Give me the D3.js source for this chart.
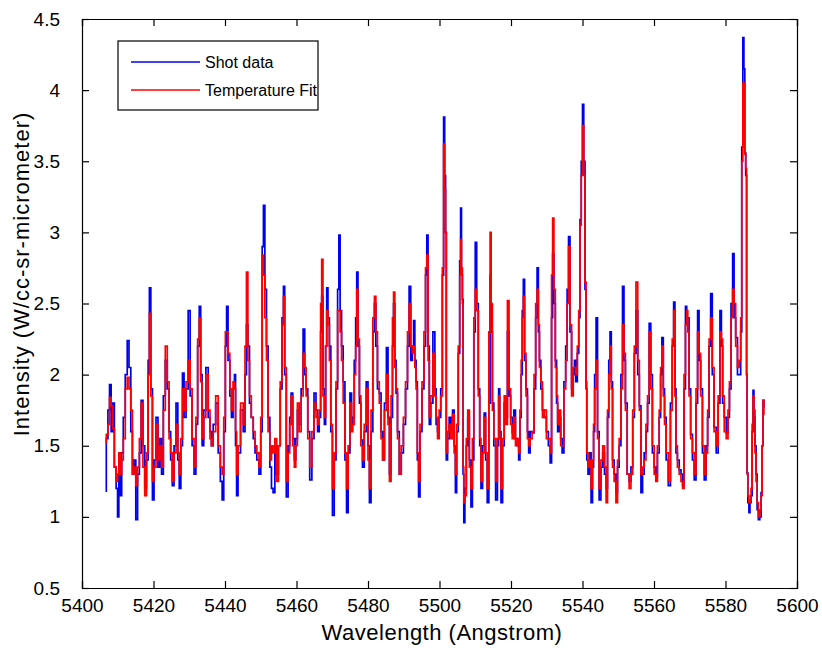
<!DOCTYPE html>
<html>
<head>
<meta charset="utf-8">
<script src="https://cdn.jsdelivr.net/npm/d3@7"></script>
<style>
  html, body { margin: 0; padding: 0; background: #fff; }
  svg { display: block; font-family: "Liberation Sans", Arial, Helvetica, sans-serif; }
</style>
</head>
<body>
<svg id="chart" width="822" height="649"></svg>
<script>
// Wavelength grid (Angstrom) shared by the measured spectrum and the fit
const wavelength = [
  5406.6,5407.0,5407.5,5407.9,5408.4,5408.8,5409.3,5409.8,5410.1,5410.5,5410.9,5411.3,5411.8,5412.4,5412.9,5413.4,5413.9,5414.3,5414.8,5415.3,
  5415.8,5416.3,5416.8,5417.3,5417.8,5418.3,5418.7,5419.0,5419.5,5419.9,5420.4,5421.0,5421.5,5422.0,5422.5,5423.0,5423.6,5424.1,5424.6,5425.0,
  5425.5,5426.0,5426.6,5427.0,5427.4,5427.9,5428.3,5428.8,5429.4,5430.0,5430.5,5431.1,5431.6,5432.1,5432.6,5433.0,5433.4,5433.8,5434.3,5435.0,
  5435.6,5436.0,5436.4,5437.0,5437.8,5438.4,5439.0,5439.4,5439.9,5440.3,5440.6,5441.1,5441.6,5442.0,5442.5,5442.8,5443.1,5443.4,5443.9,5444.8,
  5445.4,5445.8,5446.2,5446.6,5447.1,5447.6,5448.2,5448.6,5449.2,5449.8,5450.2,5450.6,5450.9,5451.4,5451.8,5452.3,
  5452.8,5453.2,5453.7,5454.2,5454.7,5455.2,5455.7,5456.2,5456.5,5456.9,5457.4,5457.9,5458.3,5458.7,5459.2,5459.6,5460.0,5460.5,5461.0,5461.6,
  5462.1,5462.5,5462.9,5463.4,5464.0,5464.6,5465.2,5465.7,5466.1,5466.6,5466.9,5467.2,5467.6,5468.0,5468.3,5468.6,5469.0,5469.4,5469.8,5470.3,
  5470.8,5471.3,5471.7,5472.0,5472.4,5472.8,5473.3,5473.8,5474.2,5474.7,5475.2,5475.6,5475.9,5476.4,5476.7,5477.0,5477.4,5477.8,5478.2,5478.7,
  5479.2,5479.8,5480.2,5480.6,5481.1,5481.6,5482.0,5482.4,5482.9,5483.4,5483.9,5484.3,5484.9,5485.4,5485.8,5486.2,5486.7,5487.0,5487.3,5487.7,
  5488.0,5488.5,5489.0,5489.6,5490.2,5490.8,5491.3,5491.7,5492.2,5492.6,5492.9,5493.3,5493.6,5494.0,5494.3,5494.8,5495.4,5495.9,5496.3,5496.6,
  5497.0,5497.3,5497.8,5498.5,5498.9,5499.2,5499.7,
  5500.1,5500.6,5501.0,5501.3,5501.6,5501.8,5502.0,5502.5,5502.9,5503.4,5503.9,5504.3,5504.6,5505.0,5505.5,5505.8,5506.0,5506.3,5506.5,5506.7,
  5506.9,5507.3,5507.7,5508.1,5508.6,5509.0,5509.4,5509.8,5510.2,5510.6,5511.1,5511.4,5511.8,5512.3,5512.7,5513.1,5513.6,5514.0,5514.3,5514.6,
  5515.0,5515.4,5516.0,5516.4,5516.7,5517.0,5517.4,5517.9,5518.3,5518.8,5519.2,5519.7,5520.1,5520.6,5521.0,5521.5,5522.0,5522.3,5522.7,5523.0,
  5523.3,5523.6,5524.0,5524.4,5524.8,5525.1,5525.6,5526.2,5526.7,5527.1,5527.5,5527.8,5528.1,5528.6,5529.0,5529.6,5530.2,5530.7,5531.2,5531.5,
  5531.8,5532.2,5532.6,5532.9,5533.2,5533.7,5534.1,5534.5,5535.1,5535.5,5535.9,5536.3,5536.7,5537.2,5537.6,5537.9,5538.3,5538.8,5539.1,5539.5,
  5539.8,5540.2,5540.5,5540.9,5541.1,5541.3,5541.8,5542.2,5542.6,5543.0,5543.2,5543.6,5544.0,5544.4,5544.9,5545.4,5545.9,5546.4,5546.8,5547.2,
  5547.5,
  5547.9,5548.2,5548.6,5549.1,5549.6,5550.0,5550.5,5551.0,5551.4,5551.8,5552.2,5552.8,5553.3,5553.8,5554.3,5554.7,5555.2,5555.7,5556.1,5556.6,
  5557.0,5557.5,5558.0,5558.4,5558.9,5559.3,5559.8,5560.3,5560.7,5561.2,5561.7,5562.0,5562.4,5562.8,5563.1,5563.7,5564.3,5564.9,5565.3,5565.7,
  5566.0,5566.3,5566.8,5567.3,5567.8,5568.2,5568.6,5569.0,5569.3,5569.6,5570.0,5570.5,5571.0,5571.5,5572.0,5572.4,5572.8,5573.3,5573.8,5574.3,
  5574.8,5575.2,5575.6,5576.1,5576.5,5577.1,5577.7,5578.2,5578.7,5579.0,5579.4,5579.9,5580.5,5580.9,5581.3,5581.8,5582.2,5582.6,5583.1,5583.6,
  5584.1,5584.4,5584.7,5585.0,5585.3,5585.5,5585.8,5586.0,5586.1,5586.4,5586.7,5587.0,5587.3,5587.6,5587.8,5588.1,5588.4,5588.7,5589.0,5589.4,
  5589.8,5590.1,5590.4,5590.6,5590.9
];

// Measured intensity (W/cc-sr-micrometer)
const shotData = [
  1.18,1.55,1.75,1.93,1.60,1.80,1.35,1.20,1.00,1.40,1.15,1.45,1.70,2.00,2.24,2.05,1.60,1.30,1.40,0.98,
  1.30,1.45,1.82,1.50,1.20,1.40,2.10,2.61,1.90,1.12,1.40,1.70,1.35,1.55,1.30,1.85,2.10,1.90,1.60,1.40,
  1.22,1.50,1.80,1.40,1.20,1.50,2.01,1.70,1.90,2.45,1.85,1.50,1.30,1.65,2.20,2.48,2.00,1.50,1.75,2.05,
  1.70,1.60,1.50,1.65,1.80,1.45,1.25,1.12,1.60,2.20,2.48,2.10,1.85,1.70,1.90,2.00,1.50,1.15,1.45,1.75,
  1.60,2.00,2.35,2.20,1.80,1.70,1.55,1.45,1.40,1.30,1.60,2.90,3.19,2.60,2.20,1.70,
  1.35,1.20,1.17,1.50,1.30,1.50,1.90,2.40,2.62,2.00,1.14,1.50,1.70,1.87,1.55,1.40,1.55,1.75,1.65,1.90,
  2.32,2.00,1.90,1.60,1.26,1.55,1.87,1.75,1.60,1.70,2.30,2.55,1.90,1.65,2.20,2.61,2.40,2.20,1.60,1.01,
  1.40,1.90,2.60,2.98,2.45,2.20,1.95,1.40,1.03,1.45,1.87,1.65,1.70,2.10,2.40,2.72,2.20,1.80,1.54,1.35,
  1.60,1.95,1.50,1.10,1.60,2.30,2.50,2.20,1.90,1.87,1.60,1.40,1.80,2.19,1.70,1.30,1.70,2.20,2.50,2.10,
  1.87,1.60,1.30,1.45,1.65,1.90,2.20,2.62,2.10,2.20,2.38,2.10,1.95,1.40,1.14,1.60,1.90,2.20,2.70,2.98,
  2.20,1.65,1.80,2.30,1.90,1.65,1.60,
  1.70,1.90,2.70,3.81,3.40,3.00,1.40,1.55,1.70,1.60,1.75,1.50,1.17,1.60,2.15,2.80,3.17,2.70,2.53,1.30,
  0.96,1.20,1.50,1.70,1.40,1.07,1.40,2.30,2.93,2.50,1.90,1.50,1.20,1.50,1.73,1.40,1.10,1.80,2.70,2.30,
  1.80,1.50,1.12,1.50,1.90,1.60,1.10,1.50,1.80,1.70,2.30,1.85,1.70,1.59,1.75,1.55,1.50,1.40,1.70,2.00,
  2.45,2.67,2.10,1.90,1.60,1.45,1.60,1.59,1.90,2.40,2.75,2.30,2.10,1.90,1.75,1.70,1.60,1.50,1.38,2.40,
  2.85,2.50,2.10,1.80,1.60,1.70,1.55,1.45,1.95,2.20,2.60,2.97,2.30,1.90,2.00,2.10,1.95,2.15,2.40,3.09,
  3.50,3.90,3.50,2.60,1.90,1.40,1.30,1.45,1.10,1.35,1.60,2.00,2.40,1.60,1.12,1.35,1.45,1.30,1.20,1.70,
  2.10,
  2.30,1.95,1.40,1.30,1.17,1.35,1.50,2.00,2.62,2.10,1.80,1.30,1.25,1.35,1.70,2.15,2.45,2.00,1.78,1.17,
  1.30,1.45,1.60,1.80,2.36,2.00,1.45,1.35,1.28,1.45,1.70,2.00,2.26,1.90,1.70,1.40,1.22,1.80,2.20,2.51,
  1.90,1.45,1.40,1.33,1.30,1.22,1.90,2.48,2.40,2.40,1.90,1.58,1.40,1.26,1.80,2.45,2.10,1.90,1.45,1.26,
  1.50,1.70,2.20,2.57,2.00,1.63,1.45,1.80,2.45,2.20,1.80,1.70,1.59,1.70,1.90,2.50,2.85,2.40,2.26,2.00,
  2.00,2.30,3.60,4.37,4.15,3.56,3.40,2.00,1.31,1.10,1.03,1.10,1.15,1.60,1.89,1.70,1.50,1.30,1.05,0.98,
  1.00,1.17,1.50,1.82,1.77
];

// Temperature fit evaluated on the same grid
const tempFit = [
  1.52,1.58,1.65,1.84,1.78,1.62,1.35,1.25,1.30,1.45,1.30,1.40,1.55,1.90,1.98,1.90,1.75,1.30,1.35,1.22,
  1.35,1.55,1.80,1.35,1.15,1.45,2.00,2.43,1.85,1.25,1.35,1.65,1.40,1.50,1.35,1.75,2.20,1.95,1.55,1.45,
  1.25,1.45,1.65,1.45,1.30,1.55,1.90,1.75,1.95,2.10,1.90,1.55,1.35,1.70,2.25,2.40,1.95,1.55,1.70,2.00,
  1.75,1.55,1.50,1.60,1.85,1.50,1.35,1.30,1.70,2.30,2.30,2.15,1.90,1.75,1.95,1.90,1.60,1.30,1.50,1.80,
  1.65,2.20,2.72,2.10,1.85,1.70,1.60,1.50,1.45,1.35,1.70,2.84,2.70,2.40,2.10,1.60,
  1.40,1.50,1.45,1.55,1.25,1.50,1.95,2.35,2.55,2.05,1.25,1.45,1.65,1.85,1.50,1.35,1.50,1.80,1.60,1.85,
  2.15,2.05,1.85,1.55,1.35,1.60,1.80,1.70,1.65,1.75,2.50,2.81,1.85,1.70,2.20,2.45,2.35,2.10,1.65,1.20,
  1.45,1.95,2.45,2.45,2.30,2.10,1.80,1.45,1.20,1.50,1.80,1.60,1.65,2.00,2.20,2.60,2.25,1.85,1.50,1.40,
  1.65,1.90,1.40,1.20,1.75,2.40,2.55,2.30,1.95,1.80,1.55,1.40,1.75,2.00,1.65,1.25,1.85,2.40,2.58,2.05,
  1.90,1.55,1.30,1.50,1.70,1.95,2.30,2.50,2.20,2.15,2.20,2.05,1.90,1.45,1.25,1.65,1.95,2.30,2.75,2.84,
  2.10,1.70,1.85,2.15,1.85,1.70,1.55,
  1.75,1.85,2.75,3.62,3.30,3.00,1.45,1.60,1.65,1.55,1.72,1.45,1.30,1.65,2.20,2.70,2.95,2.75,2.50,1.35,
  1.10,1.15,1.55,1.75,1.35,1.20,1.55,2.40,2.60,2.45,1.85,1.55,1.25,1.45,1.70,1.45,1.20,2.30,3.00,2.50,
  1.75,1.55,1.25,1.55,1.85,1.55,1.20,1.55,1.85,1.65,2.52,1.90,1.65,1.55,1.70,1.50,1.55,1.45,1.75,2.10,
  2.40,2.55,2.15,1.85,1.55,1.50,1.55,1.60,2.00,2.50,2.60,2.35,2.05,1.95,1.70,1.75,1.55,1.55,1.45,2.70,
  3.10,2.60,2.05,1.85,1.65,1.75,1.50,1.50,1.90,2.10,2.50,2.90,2.35,1.85,2.05,2.05,2.00,2.20,2.45,3.05,
  3.40,3.75,3.40,2.65,1.95,1.45,1.35,1.40,1.20,1.40,1.65,1.90,2.10,1.55,1.20,1.40,1.50,1.35,1.10,1.75,
  2.00,
  2.20,1.90,1.35,1.25,1.10,1.40,1.55,1.90,2.35,2.15,1.75,1.30,1.20,1.30,1.75,2.20,2.65,2.10,1.75,1.30,
  1.35,1.40,1.65,1.85,2.30,1.90,1.50,1.30,1.25,1.50,1.75,2.05,2.20,1.85,1.65,1.45,1.25,1.75,2.25,2.45,
  1.85,1.50,1.35,1.30,1.25,1.20,2.00,2.35,2.45,2.30,1.85,1.55,1.45,1.30,1.90,2.30,2.15,1.85,1.50,1.30,
  1.45,1.75,2.25,2.40,2.05,1.60,1.50,1.85,2.30,2.25,1.85,1.60,1.55,1.75,1.95,2.40,2.60,2.50,2.20,2.05,
  2.10,2.40,3.50,4.05,4.05,3.55,3.45,2.00,1.30,1.15,1.10,1.12,1.20,1.65,1.85,1.75,1.45,1.25,1.10,1.00,
  1.05,1.15,1.50,1.82,1.72
];

const xTicks = [5400, 5420, 5440, 5460, 5480, 5500, 5520, 5540, 5560, 5580, 5600];
const yTicks = [0.5, 1, 1.5, 2, 2.5, 3, 3.5, 4, 4.5];

const seriesNames = ["Shot data", "Temperature Fit"];
const seriesColors = ["#0000f0", "#ff0000"];

const svg = d3.select("#chart");
const plot = { left: 82, right: 797, top: 19, bottom: 588 };

const x = d3.scaleLinear().domain([5400, 5600]).range([plot.left, plot.right]);
const y = d3.scaleLinear().domain([0.5, 4.5]).range([plot.bottom, plot.top]);

svg.append("rect")
  .attr("x", plot.left).attr("y", plot.top)
  .attr("width", plot.right - plot.left).attr("height", plot.bottom - plot.top)
  .attr("fill", "#fff");

const tickFont = 19;
const titleFont = 22;
const tickLen = 7;

// clipped data layer
svg.append("clipPath").attr("id", "clip")
  .append("rect")
  .attr("x", plot.left).attr("y", plot.top)
  .attr("width", plot.right - plot.left).attr("height", plot.bottom - plot.top);

const dataLayer = svg.append("g").attr("clip-path", "url(#clip)");
// stair-step trace of the sampled spectrum
const line = d3.line().curve(d3.curveStep).x(d => x(d[0])).y(d => y(d[1]));

[shotData, tempFit].forEach((vals, i) => {
  dataLayer.append("path")
    .datum(wavelength.map((w, k) => [w, vals[k]]))
    .attr("fill", "none")
    .attr("stroke", seriesColors[i])
    .attr("stroke-width", 1.7)
    .attr("stroke-linejoin", "miter")
    .attr("d", line);
});

// axes: ticks point inward on all four sides
const axisBottom = d3.axisBottom(x).tickValues(xTicks).tickSize(-tickLen).tickPadding(tickLen + 4).tickFormat(d3.format("d"));
const axisTop = d3.axisTop(x).tickValues(xTicks).tickSize(-tickLen).tickFormat("");
const axisLeft = d3.axisLeft(y).tickValues(yTicks).tickSize(-tickLen).tickPadding(22).tickFormat(d3.format("~g"));
const axisRight = d3.axisRight(y).tickValues(yTicks).tickSize(-tickLen).tickFormat("");

function styleAxis(g) {
  g.select(".domain").attr("stroke", "#000").attr("stroke-width", 1.2);
  g.selectAll(".tick line").attr("stroke", "#000").attr("stroke-width", 1.2);
  g.selectAll(".tick text").attr("fill", "#000").style("font-size", tickFont + "px").style("font-family", "Liberation Sans, Arial, sans-serif");
}

svg.append("g").attr("transform", `translate(0,${plot.bottom})`).call(axisBottom).call(styleAxis);
svg.append("g").attr("transform", `translate(0,${plot.top})`).call(axisTop).call(styleAxis);
svg.append("g").attr("transform", `translate(${plot.left},0)`).call(axisLeft).call(styleAxis);
svg.append("g").attr("transform", `translate(${plot.right},0)`).call(axisRight).call(styleAxis);

// axis titles
svg.append("text")
  .attr("x", 442).attr("y", 640)
  .attr("text-anchor", "middle")
  .style("font-size", titleFont + "px")
  .style("letter-spacing", "0.5px")
  .text("Wavelength (Angstrom)");

svg.append("text")
  .attr("transform", `translate(29,274) rotate(-90)`)
  .attr("text-anchor", "middle")
  .style("font-size", titleFont + "px")
  .style("letter-spacing", "1px")
  .text("Intensity (W/cc-sr-micrometer)");

// legend
const legend = svg.append("g");
legend.append("rect")
  .attr("x", 118).attr("y", 41).attr("width", 200).attr("height", 69)
  .attr("fill", "#fff").attr("stroke", "#000").attr("stroke-width", 1.2);

seriesNames.forEach((name, i) => {
  const ly = 62 + i * 28;
  legend.append("line")
    .attr("x1", 131).attr("x2", 200).attr("y1", ly).attr("y2", ly)
    .attr("stroke", seriesColors[i]).attr("stroke-width", 1.4);
  legend.append("text")
    .attr("x", 205).attr("y", ly + 6)
    .style("font-size", "16px")
    .text(name);
});
</script>
</body>
</html>
